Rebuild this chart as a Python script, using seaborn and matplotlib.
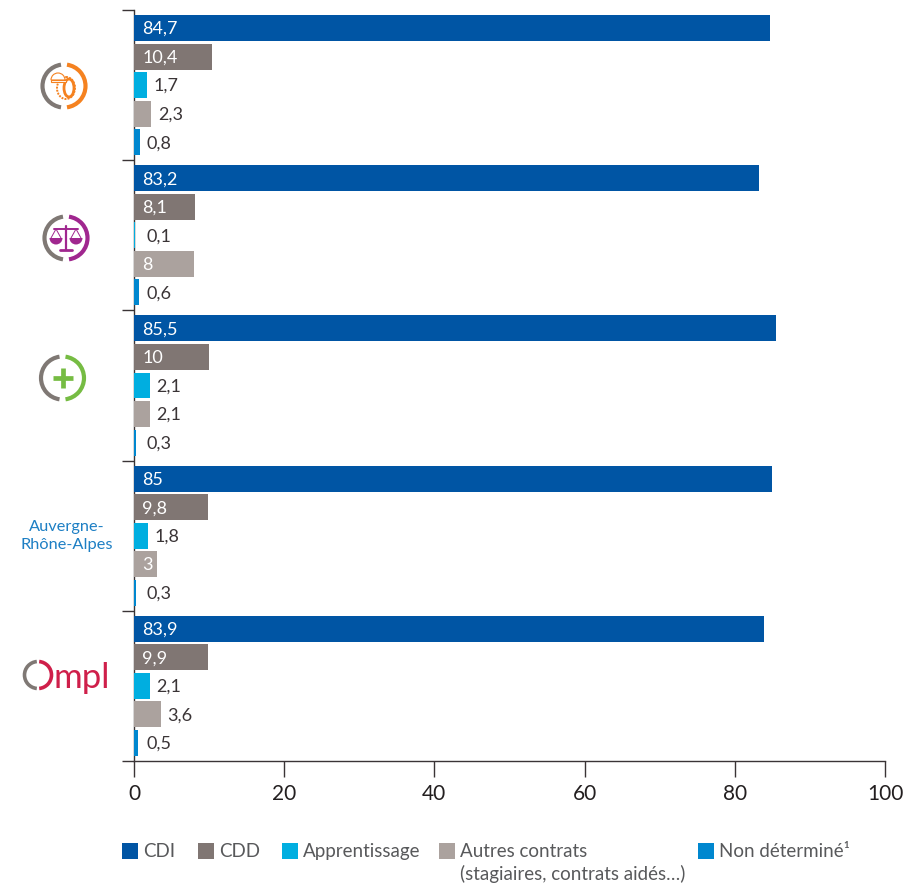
import pandas as pd
import seaborn as sns
import matplotlib.pyplot as plt
from matplotlib.patches import Arc, Ellipse, Rectangle, Wedge

# Values
groups = ['Industrie', 'Droit', 'Sante', 'Auvergne-Rhone-Alpes', 'Ompl']
contracts = ['CDI', 'CDD', 'Apprentissage', 'Autres contrats', 'Non determine']
cdi = [84.7, 83.2, 85.5, 85, 83.9]
cdd = [10.4, 8.1, 10, 9.8, 9.9]
apprentissage = [1.7, 0.1, 2.1, 1.8, 2.1]
autres = [2.3, 8, 2.1, 3, 3.6]
non_determine = [0.8, 0.6, 0.3, 0.3, 0.5]
colors = ['#0055a4', '#807673', '#00aee0', '#aba29e', '#0087cf']
legend_labels = ['CDI', 'CDD', 'Apprentissage',
                 'Autres contrats\n(stagiaires, contrats aidés…)', 'Non déterminé¹']
xticks = [0, 20, 40, 60, 80, 100]

W, H = 917, 886
GRAY = '#7f7874'
DARK = '#3a3436'

sns.set_theme(style='white')
plt.rcParams['font.family'] = ['Lato', 'DejaVu Sans']

rows = []
for name, vals in zip(contracts, [cdi, cdd, apprentissage, autres, non_determine]):
    for g, v in zip(groups, vals):
        rows.append({'groupe': g, 'contrat': name, 'valeur': v})
data = pd.DataFrame(rows)

fig = plt.figure(figsize=(W / 100, H / 100), dpi=100)
ax = fig.add_axes([134 / W, (H - 761) / H, 751 / W, 751 / H])
sns.barplot(data=data, y='groupe', x='valeur', hue='contrat', order=groups,
            hue_order=contracts, palette=colors, width=0.95, gap=0.09,
            saturation=1, legend=False, linewidth=0, ax=ax)

ax.set_xlim(0, 100)
ax.set_ylim(4.5, -0.5)
ax.set_xlabel('')
ax.set_ylabel('')
ax.set_xticks(xticks)
ax.set_yticks([i - 0.5 for i in range(6)])
ax.set_yticklabels([])
ax.tick_params(axis='x', length=11.5, width=1, color=DARK, labelsize=15,
               labelcolor='#231f20', pad=5, bottom=True)
ax.tick_params(axis='y', length=8.5, width=1, color=DARK, left=True)
sns.despine(ax=ax)
for side in ['left', 'bottom']:
    ax.spines[side].set_color(DARK)
    ax.spines[side].set_linewidth(1)
    ax.spines[side].set_zorder(0.5)

# Value labels: white inside the bar when it is long enough
for cont in ax.containers:
    for bar in cont:
        v = bar.get_width()
        y = bar.get_y() + bar.get_height() / 2
        txt = f'{v:g}'.replace('.', ',')
        if v >= 2.9 and txt != '3,6':
            ax.annotate(txt, (0, y), xytext=(6, -0.7), textcoords='offset points',
                        color='white', va='center', ha='left', fontsize=13)
        else:
            ax.annotate(txt, (max(v, 0.85), y), xytext=(4.7, -0.7), textcoords='offset points',
                        color='#3a3436', va='center', ha='left', fontsize=13)

# Overlay in pixel coordinates for the logos and the legend
ov = fig.add_axes([0, 0, 1, 1], facecolor='none')
ov.set_xlim(0, W)
ov.set_ylim(H, 0)
ov.axis('off')


def ring(cx, cy, color, d=43):
    ov.add_patch(Arc((cx, cy), d, d, theta1=98, theta2=262, color=GRAY, lw=3))
    ov.add_patch(Arc((cx, cy), d, d, theta1=-82, theta2=82, color=color, lw=3))


# tyre and helmet
ORANGE = '#f58220'
ring(64, 86, ORANGE)
ov.add_patch(Ellipse((66, 88), 18, 22, fill=False, ec=ORANGE, lw=1.4, ls=(0, (1, 0.6))))
ov.add_patch(Ellipse((69, 88), 10, 18, fill=False, ec=ORANGE, lw=2))
ov.add_patch(Wedge((58, 80), 7, 180, 360, fc='white', ec=ORANGE, lw=0.8))
ov.add_patch(Rectangle((50.5, 80), 15, 2, fc='white', ec=ORANGE, lw=0.8))

# scales
PURPLE = '#a0278f'
ring(66, 238, PURPLE)
ov.plot([66, 66], [226, 250], color=PURPLE, lw=1.6)
ov.plot([60, 72], [250, 250], color=PURPLE, lw=2)
ov.plot([54, 78], [229, 229], color=PURPLE, lw=1.4)
for px in [56, 76]:
    ov.plot([px - 5, px, px + 5], [238, 229, 238], color=PURPLE, lw=0.7)
    ov.add_patch(Wedge((px, 238), 6.5, 0, 180, fc=PURPLE, ec='none'))

# plus
GREEN = '#76bc43'
ring(62.5, 378, GREEN)
ov.plot([62.5, 62.5], [368, 388], color=GREEN, lw=3.4, solid_capstyle='butt')
ov.plot([52.5, 72.5], [378, 378], color=GREEN, lw=3.4, solid_capstyle='butt')

ov.text(67, 536, 'Auvergne-\nRhône-Alpes', color='#1d7fc4', ha='center', va='center',
        fontsize=11.8, linespacing=1.45)

# Ompl logo
CRIMSON = '#cf1f4a'
ov.add_patch(Arc((38, 675), 27, 27, theta1=95, theta2=265, color=GRAY, lw=2.6))
ov.add_patch(Arc((38, 675), 27, 27, theta1=-85, theta2=85, color=CRIMSON, lw=2.6))
ov.text(54, 688, 'mpl', color=CRIMSON, ha='left', va='baseline', fontsize=25)

# Legend
legend_x = [122, 198, 282, 439, 698]
for x0, lab, col in zip(legend_x, legend_labels, colors):
    ov.add_patch(Rectangle((x0, 843), 16, 16, fc=col, ec='none'))
    ov.text(x0 + 21, 843, lab, color='#58595b', ha='left', va='top', fontsize=13.5,
            linespacing=1.33)

fig.savefig('out.png', dpi=100)
